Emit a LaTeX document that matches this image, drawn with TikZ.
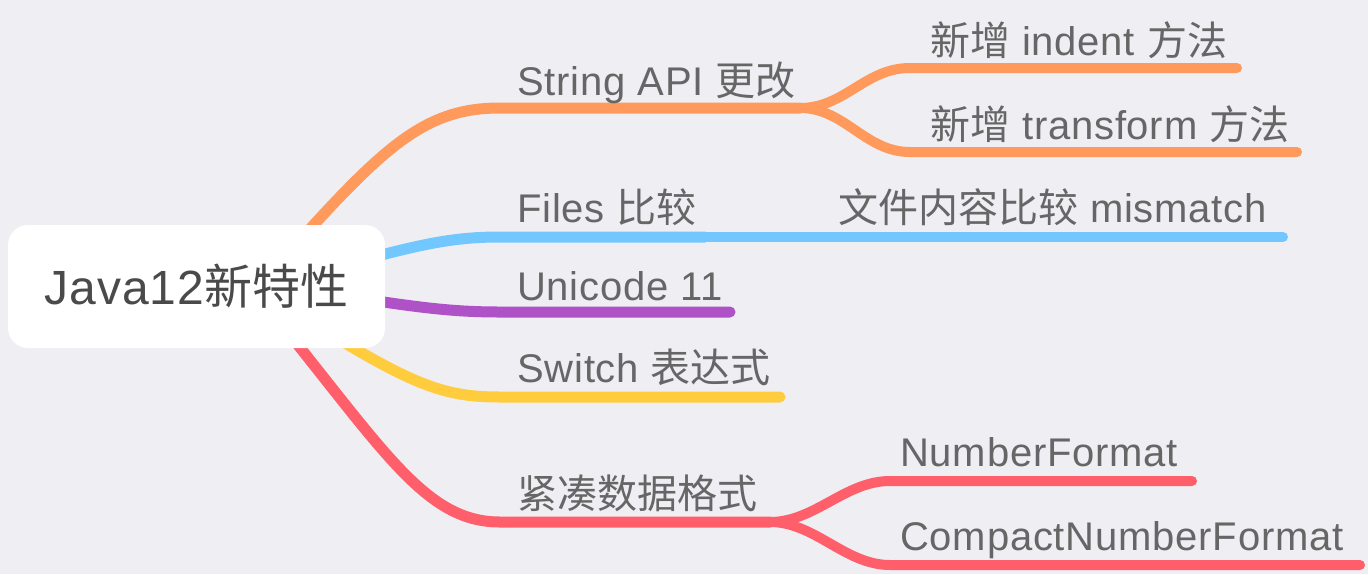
\documentclass[tikz,border=0pt]{standalone}
\usepackage{fontspec}
\setmainfont[LetterSpace=2]{Liberation Sans}
\newfontfamily\cjk{Noto Sans CJK SC}
\usetikzlibrary{calc}
\definecolor{bgcol}{RGB}{238,238,243}
\definecolor{txtcol}{RGB}{102,102,102}
\definecolor{rootcol}{RGB}{74,74,74}
\definecolor{orangeline}{RGB}{255,153,92}
\definecolor{blueline}{RGB}{115,199,255}
\definecolor{purpleline}{RGB}{175,82,199}
\definecolor{yellowline}{RGB}{255,204,61}
\definecolor{redline}{RGB}{255,94,107}
\tikzset{branch/.style={line width=11pt,line cap=round}}
\tikzset{leaf/.style={line width=10pt,line cap=round}}
\tikzset{topic/.style={anchor=base west,inner sep=0pt,text=txtcol,font=\fontsize{40}{46}\selectfont}}
\tikzset{rootbox/.style={fill=white,rounded corners=20pt,minimum width=377pt,minimum height=123pt,text=rootcol,font=\fontsize{48}{56}\selectfont}}

\begin{document}
\begin{tikzpicture}[x=1pt,y=-1pt]
  \fill[bgcol] (0,0) rectangle (1368,574);
  \useasboundingbox (0,0) rectangle (1368,574);

  % Vertices
  \coordinate (s0) at (300,240);
  \coordinate (s1) at (500,108);
  \coordinate (s2) at (800,108);
  \coordinate (s3) at (910,68);
  \coordinate (s4) at (1237,68);
  \coordinate (s5) at (910,152);
  \coordinate (s6) at (1297,152);
  \coordinate (f0) at (370,258);
  \coordinate (f1) at (500,237);
  \coordinate (f2) at (705,237);
  \coordinate (f3) at (1283,237);
  \coordinate (u0) at (370,300);
  \coordinate (u1) at (500,312);
  \coordinate (u2) at (730,312);
  \coordinate (w0) at (340,340);
  \coordinate (w1) at (500,397);
  \coordinate (w2) at (780,397);
  \coordinate (c0) at (290,335);
  \coordinate (c1) at (500,522);
  \coordinate (c2) at (770,522);
  \coordinate (c3) at (890,481);
  \coordinate (c4) at (1192,481);
  \coordinate (c5) at (890,565);
  \coordinate (c6) at (1360,565);

  % Lines
  \draw[branch,orangeline] (s0) .. controls (390,140) and (430,108) .. (s1) -- (s2);
  \draw[leaf,orangeline] (s2) .. controls (845,108) and (865,68) .. (s3) -- (s4);
  \draw[leaf,orangeline] (s2) .. controls (845,108) and (865,152) .. (s5) -- (s6);
  \draw[branch,blueline] (f0) .. controls (430,242) and (460,237) .. (f1) -- (f2);
  \draw[leaf,blueline] (f2) -- (f3);
  \draw[branch,purpleline] (u0) .. controls (430,309) and (460,312) .. (u1) -- (u2);
  \draw[branch,yellowline] (w0) .. controls (420,388) and (450,397) .. (w1) -- (w2);
  \draw[branch,redline] (c0) .. controls (390,460) and (430,522) .. (c1) -- (c2);
  \draw[leaf,redline] (c2) .. controls (815,522) and (845,481) .. (c3) -- (c4);
  \draw[leaf,redline] (c2) .. controls (815,522) and (845,565) .. (c5) -- (c6);

  % Labels
  \node[rootbox] (root) at (196.5,286.5) {Java12{\cjk 新特性}};
  \node[topic] (str) at (517,95) {String API {\cjk 更改}};
  \node[topic] (indent) at (930,55) {{\cjk 新增} indent {\cjk 方法}};
  \node[topic] (transform) at (930,139) {{\cjk 新增} transform {\cjk 方法}};
  \node[topic] (files) at (517,222) {Files {\cjk 比较}};
  \node[topic] (mismatch) at (838,222) {{\cjk 文件内容比较} mismatch};
  \node[topic] (unicode) at (517,300) {Unicode 11};
  \node[topic] (switch) at (517,382) {Switch {\cjk 表达式}};
  \node[topic] (compact) at (517,508) {{\cjk 紧凑数据格式}};
  \node[topic] (number) at (900,466) {NumberFormat};
  \node[topic] (cnumber) at (900,550) {CompactNumberFormat};
\end{tikzpicture}
\end{document}
